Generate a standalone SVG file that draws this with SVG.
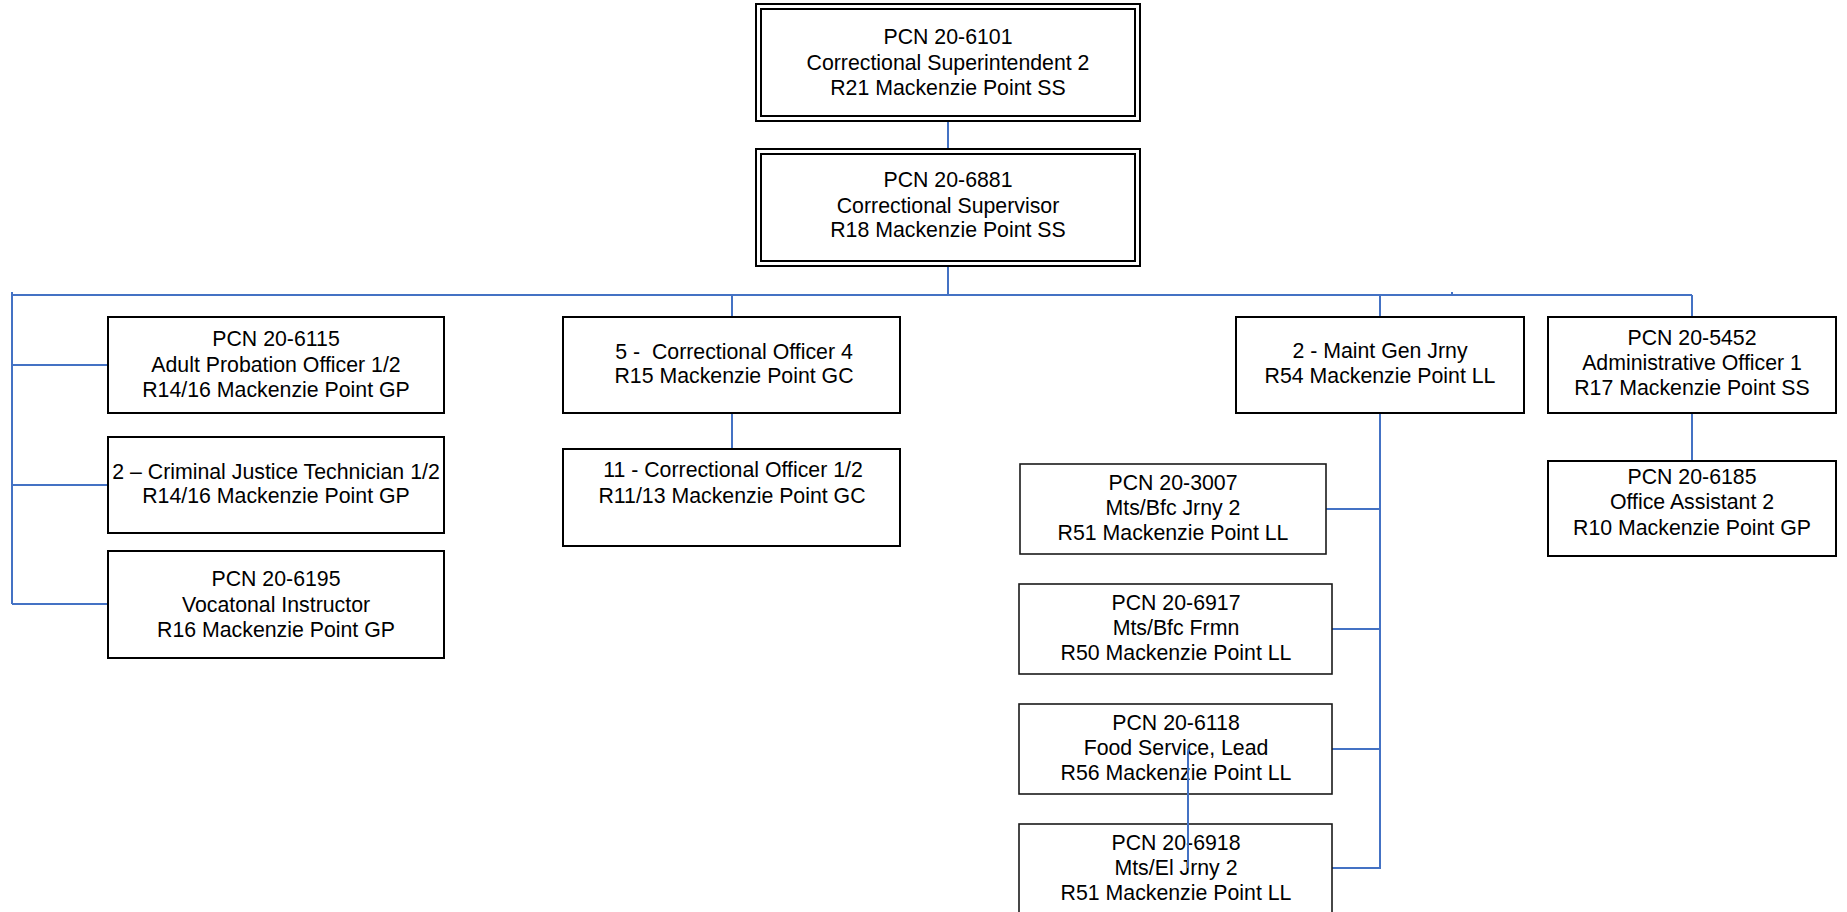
<svg xmlns="http://www.w3.org/2000/svg" width="1847" height="912" viewBox="0 0 1847 912">
<style>
  .box{fill:#fff;stroke:#000;stroke-width:2}
  .box2{fill:#fff;stroke:#1a1a1a;stroke-width:1.6}
  .t{font-family:"Liberation Sans",Arial,sans-serif;font-size:21.3px;fill:#000;text-anchor:middle}
  .c{fill:none;stroke:#4472C4;stroke-width:2}
</style>
<rect width="1847" height="912" fill="#fff"/>
<g id="connectors">
  <line class="c" x1="948" y1="121" x2="948" y2="149"/>
  <line class="c" x1="948" y1="266" x2="948" y2="295"/>
  <line class="c" x1="12" y1="295" x2="1692" y2="295"/>
  <line class="c" x1="1188" y1="295" x2="1380" y2="295" stroke-width="3"/>
  <line class="c" x1="1452" y1="292" x2="1452" y2="295"/>
  <line class="c" x1="12" y1="292" x2="12" y2="604"/>
  <line class="c" x1="12" y1="365" x2="108" y2="365"/>
  <line class="c" x1="12" y1="485" x2="108" y2="485"/>
  <line class="c" x1="12" y1="604" x2="108" y2="604"/>
  <line class="c" x1="732" y1="295" x2="732" y2="317"/>
  <line class="c" x1="732" y1="413" x2="732" y2="449"/>
  <line class="c" x1="1380" y1="295" x2="1380" y2="317"/>
  <polyline class="c" points="1380,413 1380,868 1332,868"/>
  <line class="c" x1="1326" y1="509" x2="1380" y2="509"/>
  <line class="c" x1="1332" y1="629" x2="1380" y2="629"/>
  <line class="c" x1="1332" y1="749" x2="1380" y2="749"/>
  <line class="c" x1="1692" y1="295" x2="1692" y2="317"/>
  <line class="c" x1="1692" y1="413" x2="1692" y2="461"/>
</g>
<g id="n6101">
  <rect class="box" x="756" y="4" width="384" height="117"/>
  <rect class="box" x="761" y="9" width="374" height="107"/>
  <text class="t" x="948" y="44">PCN 20-6101</text>
  <text class="t" x="948" y="70">Correctional Superintendent 2</text>
  <text class="t" x="948" y="95">R21 Mackenzie Point SS</text>
</g>
<g id="n6881">
  <rect class="box" x="756" y="149" width="384" height="117"/>
  <rect class="box" x="761" y="154" width="374" height="107"/>
  <text class="t" x="948" y="187">PCN 20-6881</text>
  <text class="t" x="948" y="213">Correctional Supervisor</text>
  <text class="t" x="948" y="237">R18 Mackenzie Point SS</text>
</g>
<g id="n6115">
  <rect class="box" x="108" y="317" width="336" height="96"/>
  <text class="t" x="276" y="346">PCN 20-6115</text>
  <text class="t" x="276" y="372">Adult Probation Officer 1/2</text>
  <text class="t" x="276" y="397">R14/16 Mackenzie Point GP</text>
</g>
<g id="ncjt">
  <rect class="box" x="108" y="437" width="336" height="96"/>
  <text class="t" x="276" y="479">2 – Criminal Justice Technician 1/2</text>
  <text class="t" x="276" y="503">R14/16 Mackenzie Point GP</text>
</g>
<g id="n6195">
  <rect class="box" x="108" y="551" width="336" height="107"/>
  <text class="t" x="276" y="586">PCN 20-6195</text>
  <text class="t" x="276" y="612">Vocatonal Instructor</text>
  <text class="t" x="276" y="637">R16 Mackenzie Point GP</text>
</g>
<g id="nco4">
  <rect class="box" x="563" y="317" width="337" height="96"/>
  <text class="t" x="734" y="359" xml:space="preserve">5 -  Correctional Officer 4</text>
  <text class="t" x="734" y="383">R15 Mackenzie Point GC</text>
</g>
<g id="nco12">
  <rect class="box" x="563" y="449" width="337" height="97"/>
  <text class="t" x="733" y="477">11 - Correctional Officer 1/2</text>
  <text class="t" x="732" y="503">R11/13 Mackenzie Point GC</text>
</g>
<g id="nmaint">
  <rect class="box" x="1236" y="317" width="288" height="96"/>
  <text class="t" x="1380" y="358">2 - Maint Gen Jrny</text>
  <text class="t" x="1380" y="383">R54 Mackenzie Point LL</text>
</g>
<g id="n5452">
  <rect class="box" x="1548" y="317" width="288" height="96"/>
  <text class="t" x="1692" y="345">PCN 20-5452</text>
  <text class="t" x="1692" y="370">Administrative Officer 1</text>
  <text class="t" x="1692" y="395">R17 Mackenzie Point SS</text>
</g>
<g id="n6185">
  <rect class="box" x="1548" y="461" width="288" height="95"/>
  <text class="t" x="1692" y="484">PCN 20-6185</text>
  <text class="t" x="1692" y="509">Office Assistant 2</text>
  <text class="t" x="1692" y="535">R10 Mackenzie Point GP</text>
</g>
<g id="n3007">
  <rect class="box2" x="1020" y="464" width="306" height="90"/>
  <text class="t" x="1173" y="490">PCN 20-3007</text>
  <text class="t" x="1173" y="515">Mts/Bfc Jrny 2</text>
  <text class="t" x="1173" y="540">R51 Mackenzie Point LL</text>
</g>
<g id="n6917">
  <rect class="box2" x="1019" y="584" width="313" height="90"/>
  <text class="t" x="1176" y="610">PCN 20-6917</text>
  <text class="t" x="1176" y="635">Mts/Bfc Frmn</text>
  <text class="t" x="1176" y="660">R50 Mackenzie Point LL</text>
</g>
<g id="n6118">
  <rect class="box2" x="1019" y="704" width="313" height="90"/>
  <text class="t" x="1176" y="730">PCN 20-6118</text>
  <text class="t" x="1176" y="755">Food Service, Lead</text>
  <text class="t" x="1176" y="780">R56 Mackenzie Point LL</text>
</g>
<g id="n6918">
  <rect class="box2" x="1019" y="824" width="313" height="100"/>
  <text class="t" x="1176" y="850">PCN 20-6918</text>
  <text class="t" x="1176" y="875">Mts/El Jrny 2</text>
  <text class="t" x="1176" y="900">R51 Mackenzie Point LL</text>
</g>
<g id="stray-connector">
  <path class="c" d="M1190,748 Q1188,749 1188,752 L1188,868"/>
</g>
</svg>
